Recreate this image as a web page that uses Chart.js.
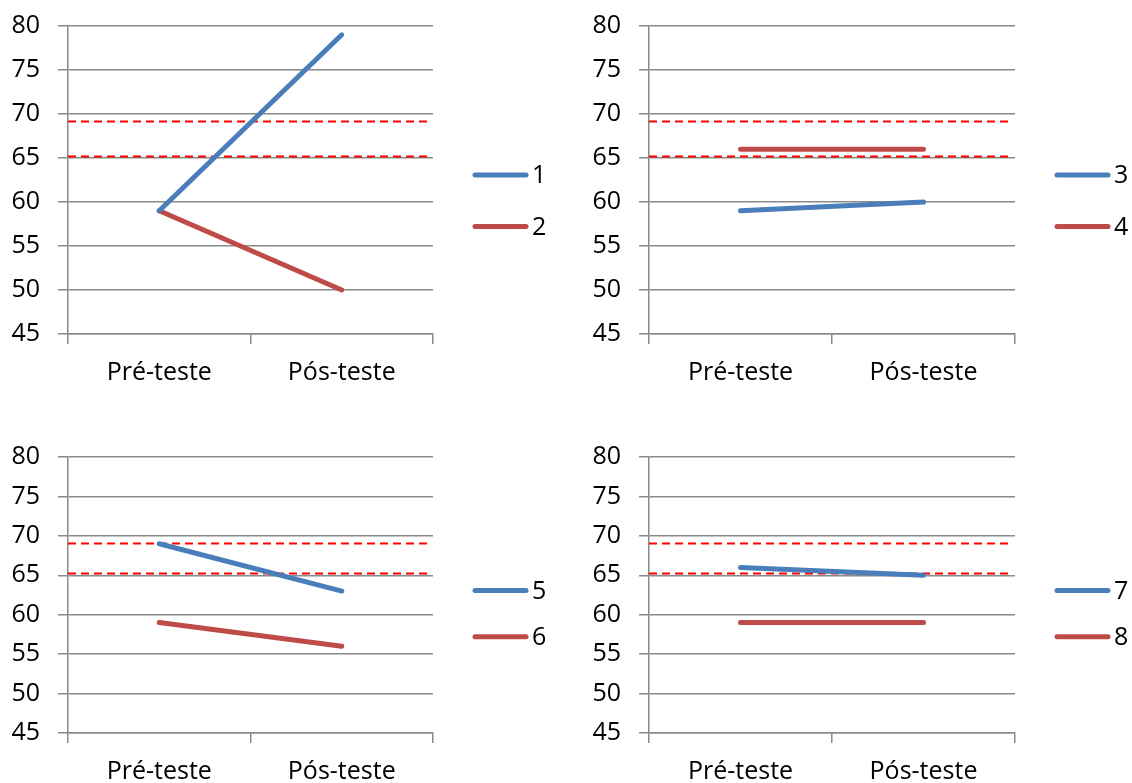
<!DOCTYPE html>
<html>
<head>
<meta charset="utf-8">
<script src="https://cdn.jsdelivr.net/npm/chart.js@4/dist/chart.umd.min.js"></script>
<style>
	html, body { margin: 0; padding: 0; background: #fff; width: 1132px; height: 783px; overflow: hidden; }
	.box { position: absolute; }
</style>
</head>
<body>
<div class="box" style="left:0;top:0;width:566px;height:400px"><canvas id="c1"></canvas></div>
<div class="box" style="left:581px;top:0;width:551px;height:400px"><canvas id="c2"></canvas></div>
<div class="box" style="left:0;top:420px;width:566px;height:363px"><canvas id="c3"></canvas></div>
<div class="box" style="left:581px;top:420px;width:551px;height:363px"><canvas id="c4"></canvas></div>
<script>
// categorias e valores
const categories = ['Pré-teste', 'Pós-teste']
const yTicks = [45, 50, 55, 60, 65, 70, 75, 80]
const cutoffs = [69.15, 65.25]

const series1 = [59, 79]
const series2 = [59, 50]
const series3 = [59, 60]
const series4 = [66, 66]
const series5 = [69, 63]
const series6 = [59, 56]
const series7 = [66, 65]
const series8 = [59, 59]

const blue = '#4a7ebb'
const red = '#be4b48'
const gridColor = '#8a8a8a'
const font = { family: '"Open Sans"', size: 25, lineHeight: 1 }

// linhas tracejadas vermelhas
const refLines = {
	id: 'refLines',
	beforeDatasetsDraw(chart) {
		const { ctx, chartArea, scales } = chart
		ctx.save()
		ctx.strokeStyle = '#ff0000'
		ctx.lineWidth = 2
		ctx.setLineDash([8, 5])
		cutoffs.forEach(v => {
			const y = Math.round(scales.y.getPixelForValue(v)) + 0.5
			ctx.beginPath()
			ctx.moveTo(chartArea.left, y)
			ctx.lineTo(chartArea.right - 6, y)
			ctx.stroke()
		})
		ctx.restore()
	}
}

// legenda ao lado
const sideLegend = {
	id: 'sideLegend',
	afterDraw(chart) {
		const { ctx, chartArea } = chart
		const h = chartArea.bottom - chartArea.top
		ctx.save()
		ctx.font = font.size + 'px ' + font.family
		ctx.textBaseline = 'middle'
		ctx.fillStyle = '#000'
		chart.data.datasets.forEach((ds, i) => {
			const y = chartArea.top + h * (0.484 + i * 0.167)
			const x = chartArea.right + 42
			ctx.strokeStyle = ds.borderColor
			ctx.lineWidth = 5
			ctx.lineCap = 'round'
			ctx.beginPath()
			ctx.moveTo(x, y)
			ctx.lineTo(x + 51, y)
			ctx.stroke()
			ctx.fillText(ds.label, x + 57, y + 1)
		})
		ctx.restore()
	}
}

function makeChart(id, a, b, labelA, labelB, pad, yWidth, xHeight) {
	const dataset = (label, data, color) => ({
		label: label,
		data: data,
		borderColor: color,
		backgroundColor: color,
		borderWidth: 5,
		borderCapStyle: 'round',
		pointRadius: 0,
		tension: 0
	})

	new Chart(document.getElementById(id), {
		type: 'line',
		data: {
			labels: categories,
			datasets: [
				dataset(labelA, a, blue),
				dataset(labelB, b, red)
			]
		},
		options: {
			responsive: true,
			maintainAspectRatio: false,
			animation: false,
			layout: { padding: pad },
			plugins: {
				legend: { display: false },
				tooltip: { enabled: false }
			},
			scales: {
				x: {
					offset: true,
					grid: { offset: true, drawOnChartArea: false, tickLength: 10, color: gridColor, lineWidth: 1.5 },
					border: { color: gridColor, width: 1.5 },
					ticks: { color: '#000', font: font, padding: 16, maxRotation: 0 },
					afterFit: s => { s.height = xHeight }
				},
				y: {
					min: yTicks[0],
					max: yTicks[yTicks.length - 1],
					ticks: { stepSize: yTicks[1] - yTicks[0], color: '#000', font: font, padding: 18 },
					grid: { tickLength: 10, color: gridColor, lineWidth: 1.5 },
					border: { color: gridColor, width: 1.5 },
					afterFit: s => {
						s.width = yWidth
						s.paddingTop = 0
						s.paddingBottom = 0
					}
				}
			}
		},
		plugins: [refLines, sideLegend]
	})
}

makeChart('c1', series1, series2, '1', '2', { top: 26, right: 133, bottom: 0, left: 0 }, 68, 66)
makeChart('c2', series3, series4, '3', '4', { top: 26, right: 117, bottom: 0, left: 0 }, 68, 66)
makeChart('c3', series5, series6, '5', '6', { top: 37, right: 133, bottom: 0, left: 0 }, 68, 50)
makeChart('c4', series7, series8, '7', '8', { top: 37, right: 117, bottom: 0, left: 0 }, 68, 50)
</script>
</body>
</html>
